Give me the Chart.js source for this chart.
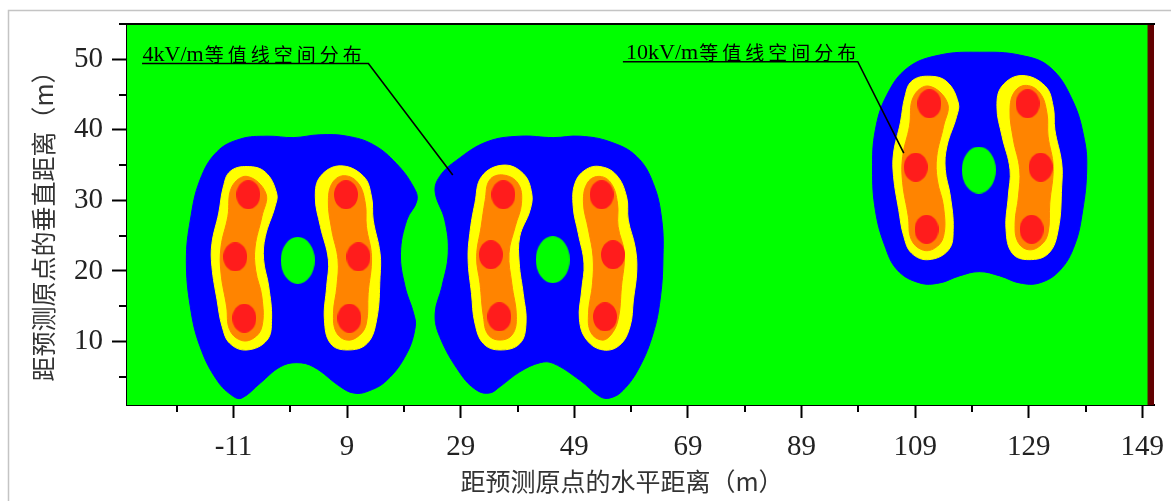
<!DOCTYPE html>
<html>
<head>
<meta charset="utf-8">
<script src="https://cdn.jsdelivr.net/npm/chart.js@4.4.1/dist/chart.umd.min.js"></script>
<style>
  html, body { margin: 0; padding: 0; background: #fff; }
  canvas { display: block; }
</style>
</head>
<body>
<canvas id="chart" width="1171" height="501"></canvas>
<script>
// tick values
const xTicks = [-11, 9, 29, 49, 69, 89, 109, 129, 149];
const xMinorTicks = [-21, -1, 19, 39, 59, 79, 99, 119, 139];
const yTicks = [10, 20, 30, 40, 50];
const yMinorTicks = [5, 15, 25, 35, 45, 55];

// titles / labels
const xTitle = "距预测原点的水平距离（m）";
const yTitle = "距预测原点的垂直距离（m）";
const noteLabels = ["4kV/m等值线空间分布", "10kV/m等值线空间分布"];

// contour outlines [x, y]
const blueLeft = [[-19.3,21.5],[-18.6,27.2],[-16.9,32.9],[-13.9,36.9],[-9.8,38.7],[-5.1,39.1],[-0.4,38.9],[4.2,39.3],[9.0,39.1],[13.6,37.9],[17.7,35.2],[20.7,31.9],[21.3,30.0],[19.5,27.2],[18.4,22.5],[19.2,17.8],[20.7,14.0],[21.0,12.1],[19.5,8.3],[16.0,4.5],[12.5,2.9],[10.1,2.7],[7.8,3.6],[3.1,6.4],[0.1,7.0],[-2.8,6.4],[-6.3,4.1],[-9.5,2.0],[-11.0,2.2],[-13.9,4.5],[-16.9,9.3],[-18.6,14.9]];
const blueMiddle = [[24.5,31.2],[25.3,33.4],[28.3,35.7],[33.6,38.3],[39.4,39.1],[45.3,38.9],[50.0,39.1],[55.3,38.3],[60.0,36.2],[62.9,32.4],[64.4,27.2],[64.6,21.5],[64.1,15.9],[62.9,11.2],[60.5,6.4],[57.6,3.1],[55.3,2.0],[53.5,2.2],[50.0,4.5],[45.3,6.9],[43.0,7.0],[39.4,5.7],[35.9,3.6],[34.1,2.7],[31.8,3.1],[28.9,5.5],[25.3,10.7],[24.5,14.0],[25.7,17.8],[26.8,22.5],[26.2,27.2]];
const blueRight = [[120.3,51.0],[127.4,50.6],[132.7,48.9],[136.7,44.2],[138.8,38.6],[139.2,34.3],[138.5,28.6],[137.1,23.7],[134.5,20.1],[130.9,18.3],[127.4,18.3],[123.9,19.3],[120.3,19.9],[116.8,19.3],[113.3,18.3],[109.8,18.3],[105.9,20.1],[103.6,23.7],[102.0,28.6],[101.5,34.3],[102.0,40.0],[104.0,44.9],[107.7,48.8],[113.3,50.6]];

const yellowL1 = [[-8.6,34.8],[-5.4,34.0],[-3.4,31.0],[-3.7,29.1],[-5.4,24.9],[-5.7,21.6],[-4.8,17.8],[-4.3,13.1],[-5.1,10.2],[-8.6,8.8],[-11.6,9.7],[-13.0,12.1],[-13.9,15.9],[-14.8,20.6],[-14.8,23.9],[-13.6,28.2],[-12.8,31.9],[-11.6,34.1]];
const yellowL2 = [[7.8,34.9],[11.9,33.4],[13.3,30.5],[13.6,27.2],[14.8,22.5],[14.8,19.2],[14.2,13.1],[12.5,9.7],[9.0,8.8],[6.1,9.7],[5.0,13.1],[5.4,17.8],[5.7,21.6],[4.3,26.3],[3.4,30.5],[4.3,33.4]];
const yellowM1 = [[36.5,35.0],[40.0,33.8],[41.5,31.0],[41.2,28.6],[39.4,24.9],[39.3,21.1],[40.0,16.8],[40.5,12.6],[39.4,9.7],[35.9,8.8],[33.0,9.7],[31.5,12.6],[30.9,16.8],[30.3,21.6],[30.6,25.3],[31.5,29.6],[32.7,33.4]];
const yellowM2 = [[53.5,34.8],[56.4,33.6],[58.2,30.5],[58.5,27.2],[59.7,23.4],[60.0,20.1],[59.4,15.9],[58.8,12.1],[57.0,9.5],[54.1,8.8],[51.2,10.2],[49.9,13.1],[50.3,17.3],[50.7,21.1],[49.7,25.3],[48.8,29.1],[49.1,32.4],[50.9,34.3]];
const yellowR1 = [[111.4,47.6],[114.6,46.8],[116.6,43.8],[116.3,41.9],[114.6,37.7],[114.3,34.4],[115.2,30.6],[115.7,25.9],[114.9,23.0],[111.4,21.6],[108.4,22.5],[107.0,24.9],[106.1,28.7],[105.2,33.4],[105.2,36.7],[106.4,41.0],[107.2,44.7],[108.4,46.9]];
const yellowR2 = [[127.8,47.7],[131.9,46.2],[133.3,43.3],[133.6,40.0],[134.8,35.3],[134.8,32.0],[134.2,25.9],[132.5,22.5],[129.0,21.6],[126.1,22.5],[125.0,25.9],[125.4,30.6],[125.7,34.4],[124.3,39.1],[123.4,43.3],[124.3,46.2]];

const orangeL1 = [[-8.6,33.4],[-5.3,31.0],[-6.0,27.7],[-7.2,23.4],[-7.1,20.1],[-6.0,16.3],[-6.0,12.1],[-7.6,10.4],[-9.8,10.2],[-11.7,11.7],[-12.2,14.9],[-13.2,19.7],[-13.2,23.4],[-12.0,27.7],[-11.3,31.9]];
const orangeL2 = [[8.6,33.5],[11.0,32.4],[12.2,29.6],[12.4,26.3],[13.3,22.0],[12.7,16.8],[12.4,12.6],[11.2,10.9],[9.0,10.2],[7.1,11.3],[6.6,14.0],[7.2,17.8],[7.4,21.6],[6.3,25.8],[5.7,30.0],[6.5,32.6]];
const orangeM1 = [[36.5,33.6],[39.1,32.4],[39.7,29.6],[38.6,26.3],[37.5,22.5],[38.0,18.2],[38.8,13.5],[38.1,11.0],[35.9,10.2],[33.8,11.0],[33.0,13.5],[32.4,18.2],[31.8,22.0],[32.6,26.3],[33.3,30.0],[34.1,32.9]];
const orangeM2 = [[53.5,33.4],[55.5,32.4],[56.6,29.6],[56.7,26.3],[57.8,22.5],[57.3,17.8],[56.7,13.1],[55.4,10.9],[53.8,10.2],[51.9,11.3],[51.5,14.0],[52.2,18.2],[52.3,22.0],[51.5,25.8],[50.6,29.8],[51.4,32.6]];
const orangeR1 = [[111.4,46.2],[114.7,43.8],[114.0,40.5],[112.8,36.2],[112.9,32.9],[114.0,29.1],[114.0,24.9],[112.4,23.2],[110.2,23.0],[108.3,24.5],[107.8,27.7],[106.8,32.5],[106.8,36.2],[108.0,40.5],[108.7,44.7]];
const orangeR2 = [[128.6,46.3],[131.0,45.2],[132.2,42.4],[132.4,39.1],[133.3,34.8],[132.7,29.6],[132.4,25.4],[131.2,23.7],[129.0,23.0],[127.1,24.1],[126.6,26.8],[127.2,30.6],[127.4,34.4],[126.3,38.6],[125.7,42.8],[126.5,45.4]];

// red cores and the low-field holes (centres)
const redCores = [[-8.4,30.8],[-10.7,22.0],[-9.1,13.3],[8.8,30.8],[11.0,22.0],[9.4,13.3],
                  [36.5,30.8],[34.3,22.3],[35.8,13.5],[53.8,30.8],[55.8,22.3],[54.4,13.5],
                  [111.5,43.7],[109.1,34.7],[111.0,25.9],[128.8,43.7],[131.1,34.7],[129.5,25.9]];
const greenHoles = [[0.3,21.5],[45.2,21.6],[120.2,34.3]];
const edgeStrip = [[150.0,1],[151.05,1],[151.05,55],[150.0,55]];

// leader lines for the two notes
const note4Line = [[-27.1,49.4],[12.75,49.4],[27.6,33.6]];
const note10Line = [[57.55,49.65],[98.9,49.65],[107.0,36.7]];

const GREEN = "#00ff00", BLUE = "#0000ff", YELLOW = "#ffff00", ORANGE = "#ff8400", RED = "#ff1c1c";
const SERIF = "'Liberation Serif', 'Times New Roman', serif";
const CJK = "'Noto Sans CJK SC', sans-serif";

const toXY = (arr) => arr.map(p => ({x: p[0], y: p[1]}));

function zone(arr, color, order, tension) {
    return {
        data: toXY(arr), polygon: true, showLine: true,
        backgroundColor: color, borderColor: color, borderWidth: 1,
        pointRadius: 0, tension: tension, fill: false, order: order
    };
}

function sprite(w, h, color) {/*ellipse used as point style*/
    const c = document.createElement("canvas");
    c.width = w; c.height = h;
    const g = c.getContext("2d");
    g.fillStyle = color;
    g.beginPath();
    g.ellipse(w / 2, h / 2, w / 2, h / 2, 0, 0, Math.PI * 2);
    g.fill();
    return c;
}

const datasets = [];
[blueLeft, blueMiddle, blueRight].forEach(a => datasets.push(zone(a, BLUE, 6, 0.4)));
[yellowL1, yellowL2, yellowM1, yellowM2, yellowR1, yellowR2].forEach(a => datasets.push(zone(a, YELLOW, 5, 0.4)));
[orangeL1, orangeL2, orangeM1, orangeM2, orangeR1, orangeR2].forEach(a => datasets.push(zone(a, ORANGE, 4, 0.4)));
datasets.push({data: toXY(redCores), pointStyle: sprite(24, 29, RED), pointRadius: 12, order: 3});
datasets.push({data: toXY(greenHoles), pointStyle: sprite(34, 47, GREEN), pointRadius: 16, order: 3});
datasets.push(zone(edgeStrip, "#620000", 3, 0));
[note4Line, note10Line].forEach(a => datasets.push({
    data: toXY(a), showLine: true, borderColor: "#000", borderWidth: 1.6,
    pointRadius: 0, tension: 0, fill: false, order: 1
}));

const polygonFill = {
    id: "polygonFill",
    afterDatasetUpdate(chart, args) {/*contour outlines are closed curves*/
        const ds = chart.data.datasets[args.index];
        const line = args.meta.dataset;
        if (!ds.polygon || !line) return;
        line._loop = true;
        line._fullLoop = true;
        line._segments = undefined;
        line._path = undefined;
        line._pointsUpdated = false;
    },
    beforeDatasetsDraw(chart) {/*green background of the plot*/
        const a = chart.chartArea, ctx = chart.ctx;
        ctx.save();
        ctx.fillStyle = GREEN;
        ctx.fillRect(a.left, a.top, a.width, a.height);
        ctx.restore();
    },
    beforeDatasetDraw(chart, args) {
        const ds = chart.data.datasets[args.index];
        if (!ds.polygon) return;
        const line = args.meta.dataset;
        const a = chart.chartArea, ctx = chart.ctx;
        ctx.save();
        ctx.beginPath();
        ctx.rect(a.left, a.top, a.width, a.height);
        ctx.clip();
        ctx.beginPath();
        if (line && typeof line.path === "function") {
            line.updateControlPoints(a, "x");
            line.path(ctx);
        } else {
            args.meta.data.forEach((p, i) => i ? ctx.lineTo(p.x, p.y) : ctx.moveTo(p.x, p.y));
        }
        ctx.closePath();
        ctx.fillStyle = ds.backgroundColor;
        ctx.fill();
        ctx.restore();
    }
};

const decorations = {
    id: "decorations",
    beforeDraw(chart) {/*light frame round the figure*/
        const ctx = chart.ctx;
        ctx.save();
        ctx.strokeStyle = "#c4c4c4";
        ctx.lineWidth = 1.5;
        ctx.strokeRect(8.5, 10.5, 1400, 700);
        ctx.restore();
    },
    afterDraw(chart) {
        const ctx = chart.ctx, a = chart.chartArea;
        const xs = chart.scales.x, ys = chart.scales.y;
        ctx.save();
        // top border
        ctx.strokeStyle = "#000";
        ctx.lineWidth = 2;
        ctx.beginPath();
        ctx.moveTo(a.left - 1, a.top);
        ctx.lineTo(a.right + 1, a.top);
        ctx.stroke();
        // minor ticks
        ctx.beginPath();
        xMinorTicks.forEach(v => {
            const px = Math.round(xs.getPixelForValue(v));
            ctx.moveTo(px, a.bottom);
            ctx.lineTo(px, a.bottom + 7);
        });
        yMinorTicks.forEach(v => {
            const py = Math.round(ys.getPixelForValue(v));
            ctx.moveTo(a.left - 8, py);
            ctx.lineTo(a.left, py);
        });
        ctx.stroke();

        // axis titles
        ctx.fillStyle = "#333";
        ctx.font = "25px " + CJK;
        ctx.textAlign = "center";
        ctx.textBaseline = "middle";
        ctx.fillText(xTitle, 622, 481);
        ctx.translate(43, 220);
        ctx.rotate(-Math.PI / 2);
        ctx.fillText(yTitle, 0, 0);
        ctx.restore();

        // notes
        drawNote(ctx, noteLabels[0], xs.getPixelForValue(-27.0), ys.getPixelForValue(49.8));
        drawNote(ctx, noteLabels[1], xs.getPixelForValue(58.1), ys.getPixelForValue(50.0));
    }
};

function drawNote(ctx, text, px, py) {
    const m = text.match(/^[0-9A-Za-z\/]+/);
    const latin = m ? m[0] : "";
    ctx.save();
    ctx.fillStyle = "#000";
    ctx.textAlign = "left";
    ctx.textBaseline = "alphabetic";
    ctx.font = "22px " + SERIF;
    ctx.fillText(latin, px, py);
    let x = px + ctx.measureText(latin).width + 1;
    ctx.font = "19px " + CJK;
    for (const ch of text.slice(latin.length)) {
        ctx.fillText(ch, x, py + 1);
        x += 23;
    }
    ctx.restore();
}

new Chart(document.getElementById("chart"), {
    type: "scatter",
    data: {datasets: datasets},
    options: {
        responsive: false,
        devicePixelRatio: 1,
        animation: false,
        events: [],
        layout: {padding: {top: 24, right: 16, left: 0, bottom: 0}},
        plugins: {legend: {display: false}, tooltip: {enabled: false}},
        scales: {
            x: {
                type: "linear", min: -29.75, max: 151.05,
                afterBuildTicks: (s) => { s.ticks = xTicks.map(v => ({value: v})); },
                afterFit: (s) => { s.height = 96; s.paddingLeft = 0; s.paddingRight = 0; },
                ticks: {color: "#222", font: {family: SERIF, size: 29}, padding: 12, autoSkip: false, maxRotation: 0},
                grid: {drawOnChartArea: false, tickLength: 13, tickColor: "#000", tickWidth: 2},
                border: {color: "#000", width: 2}
            },
            y: {
                type: "linear", min: 1, max: 55,
                afterBuildTicks: (s) => { s.ticks = yTicks.map(v => ({value: v})); },
                afterFit: (s) => { s.width = 127; s.paddingTop = 0; s.paddingBottom = 0; },
                ticks: {color: "#222", font: {family: SERIF, size: 29}, padding: 9, autoSkip: false},
                grid: {drawOnChartArea: false, tickLength: 15, tickColor: "#000", tickWidth: 2},
                border: {color: "#000", width: 2}
            }
        }
    },
    plugins: [polygonFill, decorations]
});
</script>
</body>
</html>
